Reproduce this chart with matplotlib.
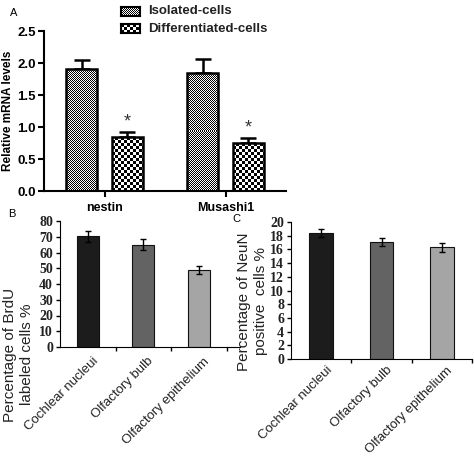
import numpy as np
import matplotlib
matplotlib.use("Agg")
import matplotlib.pyplot as plt

plt.rcParams["font.family"] = ["Liberation Sans", "DejaVu Sans"]

# ---- data ----
genes = ["nestin", "Musashi1"]
isolated = [1.90, 1.85]
isolated_err = [0.15, 0.21]
differentiated = [0.84, 0.75]
differentiated_err = [0.08, 0.08]
series_names = ["Isolated-cells", "Differentiated-cells"]

regions = ["Cochlear nucleui", "Olfactory bulb", "Olfactory epithelium"]
brdu = [70.3, 65.0, 48.9]
brdu_err = [3.5, 3.3, 2.7]
neun = [18.4, 17.1, 16.3]
neun_err = [0.6, 0.6, 0.7]
region_colors = ["#1c1c1c", "#636363", "#a5a5a5"]

W, H = 474, 457
fig = plt.figure(figsize=(W / 100, H / 100), dpi=100)


def fpos(x0, y0, x1, y1):
    return [x0 / W, 1 - y1 / H, (x1 - x0) / W, (y1 - y0) / H]


def checker(nx, ny, cell):
    yy, xx = np.mgrid[0:ny, 0:nx]
    return (((xx // cell) + (yy // cell)) % 2).astype(float)


def fill_checker(ax, patch, cell):
    x, y = patch.get_x(), patch.get_y()
    w, h = patch.get_width(), patch.get_height()
    p0 = ax.transData.transform((x, y))
    p1 = ax.transData.transform((x + w, y + h))
    nx = max(int(round(abs(p1[0] - p0[0]))), 1)
    ny = max(int(round(abs(p1[1] - p0[1]))), 1)
    img = checker(nx, ny, cell)
    im = ax.imshow(img, cmap="gray", vmin=0, vmax=1, extent=(x, x + w, y, y + h),
                   interpolation="nearest", aspect="auto", zorder=2, origin="lower")
    im.set_clip_path(patch)


# ---- Panel A ----
axA = fig.add_axes(fpos(44, 31, 286, 191))
xA = np.arange(len(genes))
bw = 0.256
off = 0.19
axA.set_xlim(-0.5, 1.5)
axA.set_ylim(0, 2.5)
b1 = axA.bar(xA - off, isolated, bw, facecolor="none", edgecolor="black", linewidth=1.8, zorder=3)
b2 = axA.bar(xA + off, differentiated, bw, facecolor="none", edgecolor="black", linewidth=1.8, zorder=3)
for p in b1:
    fill_checker(axA, p, 1)
for p in b2:
    fill_checker(axA, p, 3)
axA.errorbar(xA - off, isolated, yerr=[np.zeros(2), isolated_err], fmt="none",
             ecolor="black", elinewidth=1.8, capsize=6, capthick=1.8, zorder=1)
axA.errorbar(xA + off, differentiated, yerr=[np.zeros(2), differentiated_err], fmt="none",
             ecolor="black", elinewidth=1.8, capsize=6, capthick=1.8, zorder=1)
for xi, v, e in zip(xA + off, differentiated, differentiated_err):
    axA.text(xi, v + e + 0.02, "*", ha="center", va="bottom", fontsize=13, color="#333333")
axA.set_xticks(xA)
axA.set_xticklabels(genes, fontsize=9, fontweight="bold")
yt = np.arange(0, 2.51, 0.5)
axA.set_yticks(yt)
axA.set_yticklabels([f"{v:.1f}" for v in yt], fontsize=9.5, fontweight="bold")
axA.set_ylabel("Relative mRNA levels", fontsize=8.5, fontweight="bold")
axA.yaxis.set_label_coords(-30 / 242, 0.5)
for s in ["top", "right"]:
    axA.spines[s].set_visible(False)
for s in ["left", "bottom"]:
    axA.spines[s].set_linewidth(1.5)
axA.tick_params(width=1.5, length=4, pad=2)
axA.tick_params(axis="x", pad=4)

# legend (manual swatches)
for i, (name, cell) in enumerate(zip(series_names, [1, 3])):
    y0 = 7 + i * 17
    sw = fig.add_axes(fpos(121, y0, 140, y0 + 9))
    sw.imshow(checker(19, 9, cell), cmap="gray", vmin=0, vmax=1, interpolation="nearest", aspect="auto")
    sw.set_xticks([])
    sw.set_yticks([])
    for s in sw.spines.values():
        s.set_linewidth(1.5)
    fig.text(148 / W, 1 - (y0 + 4.5) / H, name, fontsize=9.5, va="center", ha="left",
             color="#222222", fontweight="semibold")

fig.text(10 / W, 1 - 13 / H, "A", fontsize=8, va="center", ha="left")


def region_panel(box, vals, errs, ymax, ystep, right_cells, bar_w, ylabel, lab_xy, drop):
    ax = fig.add_axes(fpos(*box))
    x = np.arange(len(regions))
    ax.set_xlim(-0.5, right_cells)
    ax.set_ylim(0, ymax)
    ax.bar(x, vals, bar_w, color=region_colors, edgecolor="#111111", linewidth=0.8, zorder=2)
    ax.errorbar(x, vals, yerr=errs, fmt="none", ecolor="black", elinewidth=1.0,
                capsize=2.5, capthick=1.0, zorder=3)
    ticks = np.arange(0, ymax + 0.01, ystep)
    ax.set_yticks(ticks)
    ax.set_yticklabels([f"{int(v)}" for v in ticks],
                       fontsize=10, fontweight="bold", family="Liberation Serif", color="#222222")
    ax.set_xticks(np.arange(0.5, len(regions) - 0.5 + 0.01, 1.0))
    ax.set_xticklabels([])
    ax.tick_params(axis="x", length=3, direction="out", width=1)
    ax.tick_params(axis="y", length=3, width=1, pad=2)
    for xi, lab in zip(x, regions):
        ax.text(xi + 0.15, -drop * ymax, lab, rotation=45, rotation_mode="anchor",
                ha="right", va="center", fontsize=9.5, color="#222222")
    for s in ["top", "right"]:
        ax.spines[s].set_visible(False)
    ax.set_ylabel(ylabel, fontsize=11, color="#222222", linespacing=1.3)
    ax.yaxis.set_label_coords(*lab_xy)
    return ax


axB = region_panel((60, 221, 240, 347), brdu, brdu_err, 80, 10, 2.74, 0.40,
                   "Percentage of BrdU\nlabeled cells %", (-26 / 180, -0.06), 0.1)
axC = region_panel((291, 222, 472, 359), neun, neun_err, 20, 2, 2.3, 0.39,
                   "Percentage of NeuN\npositive  cells %", (-23 / 181, 0.42), 0.07)
fig.text(8 / W, 1 - 214 / H, "B", fontsize=8, va="center", ha="left")
fig.text(232 / W, 1 - 219 / H, "C", fontsize=8, va="center", ha="left")

fig.savefig("out.png", dpi=100)
